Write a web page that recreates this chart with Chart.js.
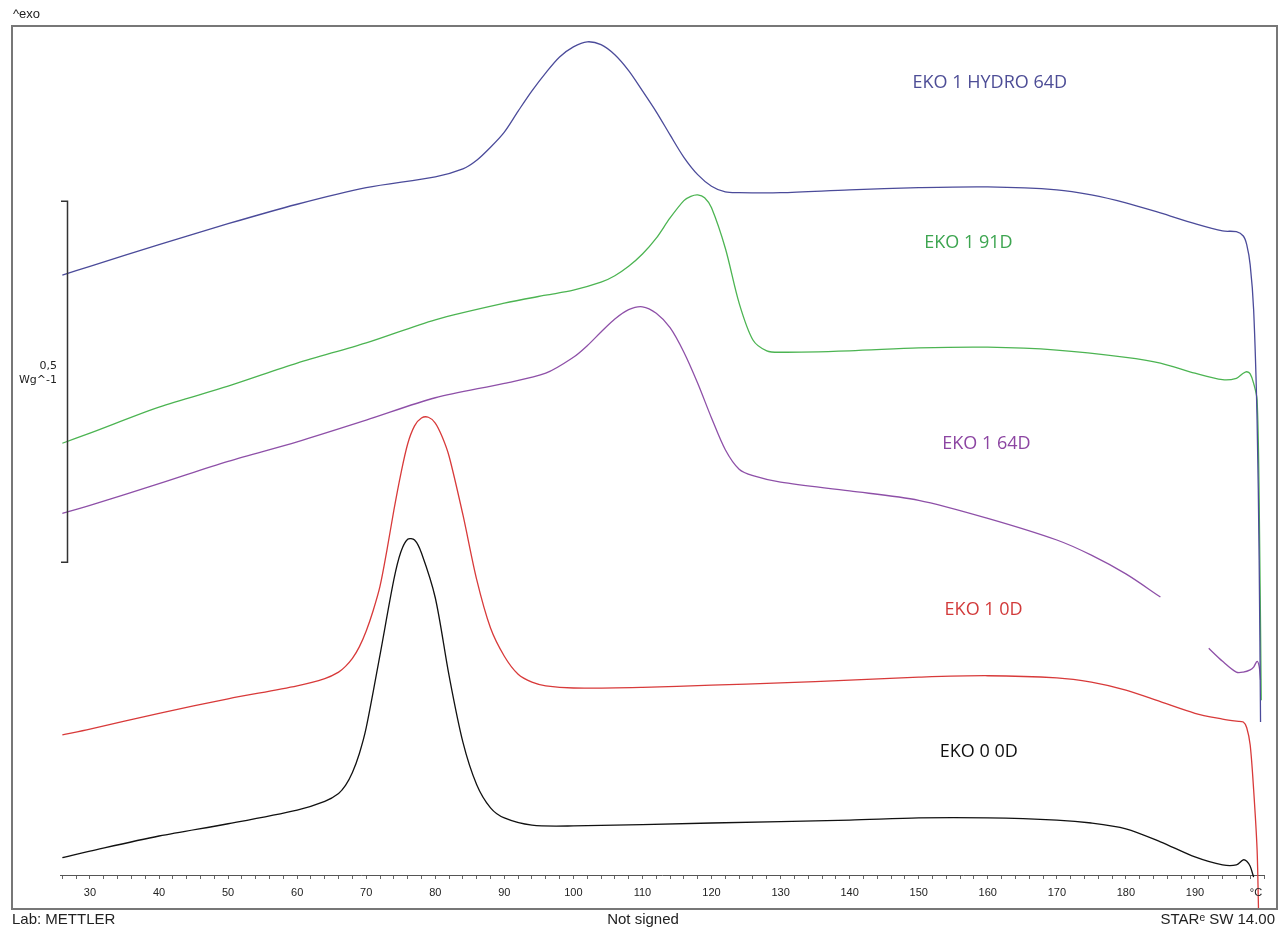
<!DOCTYPE html>
<html>
<head>
<meta charset="utf-8">
<script src="https://cdn.jsdelivr.net/npm/chart.js@4.4.0/dist/chart.umd.min.js"></script>
<style>
  html, body { margin: 0; padding: 0; background: #fff; }
  canvas { display: block; }
</style>
</head>
<body>
<canvas id="dsc" width="1287" height="930"></canvas>
<script>
// Temperatures (°C) and heat flow (Wg^-1, shifted curves)
const hydroT = [26,30,40,50,60,70,80,84,86,88,90,92,94,96,98,100,102,104,106,108,110,112,114,116,118,120,122,124,130,140,150,160,170,175,180,185,190,194,196,197,197.5,198,198.5,199,199.3,199.5];
const hydroW = [0.831,0.843,0.873,0.902,0.929,0.952,0.967,0.978,0.990,1.008,1.029,1.058,1.086,1.111,1.133,1.147,1.154,1.150,1.136,1.114,1.086,1.057,1.025,0.994,0.970,0.954,0.946,0.945,0.945,0.949,0.952,0.953,0.949,0.942,0.931,0.917,0.902,0.892,0.891,0.885,0.873,0.845,0.783,0.630,0.436,0.212];

const d91T = [26,30,40,50,60,70,80,90,96,100,104,106,108,110,112,114,116,117,118,119,120,122,124,126,128,130,140,150,160,170,180,185,190,194,196,197,197.5,198,198.5,199,199.3,199.6];
const d91W = [0.598,0.612,0.648,0.677,0.709,0.737,0.769,0.792,0.803,0.810,0.821,0.830,0.843,0.860,0.882,0.910,0.934,0.940,0.942,0.938,0.924,0.868,0.792,0.741,0.726,0.724,0.726,0.730,0.731,0.727,0.717,0.709,0.695,0.686,0.688,0.695,0.697,0.694,0.681,0.658,0.519,0.242];

const d64T = [26,30,40,50,60,70,80,90,96,100,102,104,106,108,110,112,114,116,118,120,122,124,126,130,140,150,160,170,175,180,185,188,192,194,196,197,198,198.5,199,199.3,199.5];
const d64W = [0.501,0.512,0.542,0.573,0.600,0.630,0.661,0.681,0.695,0.717,0.733,0.752,0.770,0.783,0.787,0.778,0.758,0.724,0.681,0.633,0.589,0.562,0.553,0.544,0.532,0.519,0.494,0.464,0.443,0.417,0.385,null,0.314,0.296,0.281,0.281,0.284,0.288,0.296,0.289,0.270];

const d0T = [26,30,40,50,60,64,66,67,68,69,70,71,72,73,74,75,76,77,78,79,80,81,82,84,86,88,90,92,94,96,100,110,120,130,140,150,160,170,175,180,185,190,194,196,197,197.5,198,198.5,199,199.2];
const d0W = [0.194,0.202,0.224,0.244,0.262,0.272,0.281,0.289,0.300,0.316,0.338,0.366,0.400,0.450,0.505,0.555,0.597,0.622,0.633,0.634,0.626,0.607,0.580,0.499,0.409,0.342,0.303,0.278,0.267,0.262,0.259,0.260,0.263,0.266,0.270,0.274,0.276,0.273,0.267,0.256,0.240,0.224,0.216,0.213,0.212,0.204,0.180,0.118,0.035,-0.046];

const ref0T = [26,30,40,50,60,64,66,67,68,69,70,72,74,75,76,77,78,80,82,84,86,88,90,94,100,120,140,150,160,170,175,180,185,190,194,196,197,197.5,198,198.5];
const ref0W = [0.024,0.033,0.054,0.071,0.090,0.102,0.113,0.124,0.142,0.168,0.204,0.305,0.409,0.447,0.465,0.464,0.446,0.384,0.276,0.184,0.125,0.093,0.079,0.069,0.068,0.072,0.076,0.079,0.079,0.076,0.072,0.064,0.046,0.025,0.014,0.014,0.021,0.019,0.012,-0.003];

const seriesNames = ['EKO 1 HYDRO 64D', 'EKO 1 91D', 'EKO 1 64D', 'EKO 1 0D', 'EKO 0 0D'];
const seriesColors = ['#4b4b9a', '#4cb452', '#8e50a8', '#d83a3a', '#111111'];
const labelColors = ['#4d4d96', '#3da550', '#8c45a2', '#d23a3a', '#111111'];
// label anchor: [temperature, Wg^-1]
const labelPos = [[160.3, 1.097], [157.2, 0.875], [159.8, 0.597], [159.4, 0.367], [158.7, 0.171]];

const xMin = 25.66, xMax = 200;
const scaleBar = 0.5; // Wg^-1

function toPoints(ts, ws) {
    return ts.map((t, i) => ({ x: t, y: ws[i] }));
}

const curves = [[hydroT, hydroW], [d91T, d91W], [d64T, d64W], [d0T, d0W], [ref0T, ref0W]];

const datasets = curves.map((c, i) => ({
    label: seriesNames[i],
    data: toPoints(c[0], c[1]),
    borderColor: seriesColors[i],
    borderWidth: 1.3,
    pointRadius: 0,
    tension: 0.3,
    spanGaps: false,
    clip: false
}));

// frame, scale bar, curve names and footer
const decor = {
    id: 'decor',
    afterDraw(chart) {
        const ctx = chart.ctx;
        const x = chart.scales.x, y = chart.scales.y;
        ctx.save();

        ctx.strokeStyle = '#777';
        ctx.lineWidth = 2;
        ctx.strokeRect(12, 26, 1265, 883);

        // 0,5 Wg^-1 bar
        const top = y.getPixelForValue(0.933), bot = y.getPixelForValue(0.933 - scaleBar);
        ctx.strokeStyle = '#333';
        ctx.lineWidth = 1.5;
        ctx.beginPath();
        ctx.moveTo(61, top); ctx.lineTo(67.5, top); ctx.lineTo(67.5, bot); ctx.lineTo(61, bot);
        ctx.stroke();
        ctx.fillStyle = '#222';
        ctx.font = '11px "DejaVu Sans"';
        ctx.textAlign = 'right';
        ctx.textBaseline = 'middle';
        const mid = (top + bot) / 2;
        ctx.fillText('0,5', 57, mid - 16);
        ctx.fillText('Wg^-1', 57, mid - 2);

        // curve names
        ctx.font = '18px "Open Sans"';
        ctx.textAlign = 'center';
        labelPos.forEach((p, i) => {
            ctx.fillStyle = labelColors[i];
            ctx.fillText(seriesNames[i], x.getPixelForValue(p[0]), y.getPixelForValue(p[1]));
        });

        // header and footer
        ctx.fillStyle = '#222';
        ctx.font = '13px "Liberation Sans"';
        ctx.textAlign = 'left';
        ctx.fillText('^exo', 13, 14);
        ctx.font = '15px "Liberation Sans"';
        ctx.fillText('Lab: METTLER', 12, 920);
        ctx.textAlign = 'center';
        ctx.fillText('Not signed', 643, 920);
        ctx.textAlign = 'right';
        ctx.fillText('STAR\u1D49 SW 14.00', 1275, 920);

        ctx.font = '11px "Liberation Sans"';
        ctx.textAlign = 'center';
        ctx.fillText('\u00B0C', 1256, 893);
        ctx.restore();
    }
};

new Chart(document.getElementById('dsc'), {
    type: 'line',
    data: { datasets: datasets },
    options: {
        responsive: false,
        animation: false,
        devicePixelRatio: 1,
        layout: { padding: { left: 60, right: 23, top: 27, bottom: 0 } },
        plugins: { legend: { display: false }, tooltip: { enabled: false } },
        scales: {
            x: {
                type: 'linear',
                min: xMin,
                max: xMax,
                afterFit: (s) => { s.height = 55; },
                border: { display: true, color: '#555', width: 1 },
                grid: { drawOnChartArea: false, drawTicks: true, tickLength: 4, color: '#666' },
                ticks: {
                    stepSize: 2,
                    includeBounds: false,
                    autoSkip: false,
                    maxRotation: 0,
                    padding: 7,
                    color: '#222',
                    font: { family: 'Liberation Sans', size: 11 },
                    callback: (v) => {
                        const r = Math.round(v);
                        return (Math.abs(v - r) < 1e-6 && r % 10 === 0 && r < 200) ? String(r) : '';
                    }
                }
            },
            y: { display: false, min: 0, max: 1.1745 }
        }
    },
    plugins: [decor]
});
</script>
</body>
</html>
